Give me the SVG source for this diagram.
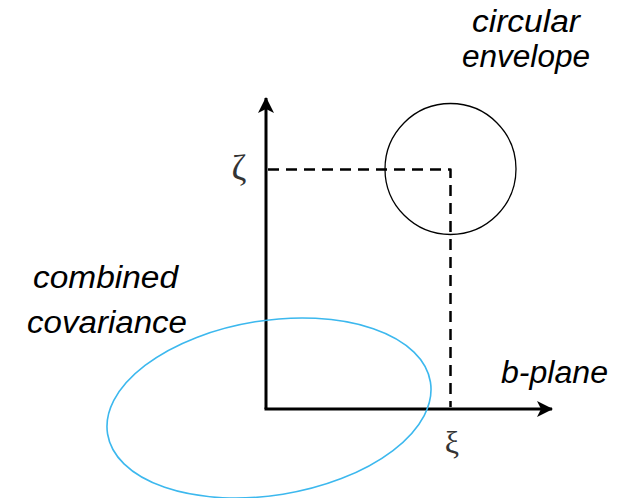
<svg xmlns="http://www.w3.org/2000/svg" width="625" height="498" viewBox="0 0 625 498">
<style>
.lbl{font-family:"Liberation Sans",Arial,sans-serif;font-style:italic;font-size:31px;fill:#000;text-anchor:middle}
.greek{font-family:"Liberation Serif","DejaVu Serif",serif;fill:#333;text-anchor:middle}
.axis{stroke:#000;stroke-width:3;fill:none}
.dash{stroke:#000;stroke-width:2.5;fill:none;stroke-dasharray:11 7;stroke-linejoin:round}
</style>
<defs>
<marker id="arr" viewBox="0 0 16 16" refX="15" refY="8" markerWidth="16" markerHeight="16" markerUnits="userSpaceOnUse" orient="auto">
<path d="M0,0 L16,8 L0,16 L4,8 Z" fill="#000"/>
</marker>
</defs>
<g id="connectors">
<path class="axis" d="M266,409 L266,98" marker-end="url(#arr)"/>
<path class="axis" d="M264.5,409 L552,409" marker-end="url(#arr)"/>
<path class="dash" d="M268,169.5 L450.5,169.5 L450.5,407"/>
</g>
<g id="circular-envelope">
<circle cx="450.5" cy="169" r="65.5" fill="none" stroke="#000" stroke-width="1.3"/>
<text class="lbl" x="526" y="32" textLength="108" lengthAdjust="spacingAndGlyphs">circular</text>
<text class="lbl" x="526" y="67" textLength="128" lengthAdjust="spacingAndGlyphs">envelope</text>
</g>
<g id="combined-covariance">
<ellipse cx="269" cy="408" rx="163.5" ry="87.3" transform="rotate(-9.15 269 408)" fill="none" stroke="#3CB8EE" stroke-width="1.6"/>
<text class="lbl" x="105.5" y="288" textLength="145" lengthAdjust="spacingAndGlyphs">combined</text>
<text class="lbl" x="107" y="333" textLength="160" lengthAdjust="spacingAndGlyphs">covariance</text>
</g>
<g id="b-plane">
<text class="lbl" x="554.5" y="383" textLength="107" lengthAdjust="spacingAndGlyphs">b-plane</text>
</g>
<g id="zeta">
<text class="greek" x="239" y="180" font-size="36">ζ</text>
</g>
<g id="xi">
<text class="greek" x="452" y="453" font-size="32">ξ</text>
</g>
</svg>
